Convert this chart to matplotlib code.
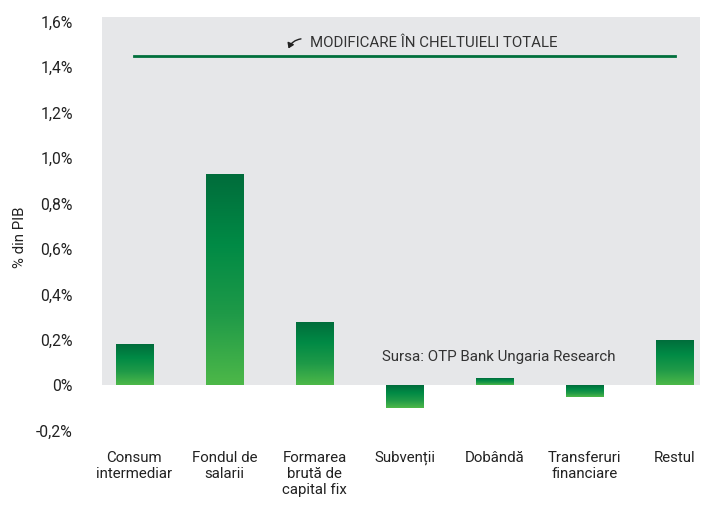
import numpy as np
import matplotlib
matplotlib.use("Agg")
import matplotlib.pyplot as plt
from matplotlib.colors import LinearSegmentedColormap
from matplotlib.patches import FancyArrowPatch

categories = ["Consum\nintermediar", "Fondul de\nsalarii", "Formarea\nbrută de\ncapital fix",
              "Subvenții", "Dobândă", "Transferuri\nfinanciare", "Restul"]
values = [0.18, 0.93, 0.28, -0.10, 0.03, -0.05, 0.20]
total_change = 1.45
yticks = [-0.2, 0.0, 0.2, 0.4, 0.6, 0.8, 1.0, 1.2, 1.4, 1.6]
ytick_labels = ["-0,2%", "0%", "0,2%", "0,4%", "0,6%", "0,8%", "1,0%", "1,2%", "1,4%", "1,6%"]

plt.rcParams["font.family"] = ["Roboto", "DejaVu Sans"]

fig = plt.figure(figsize=(7.04, 5.05), dpi=100)
ax = fig.add_axes([102 / 704, 1 - 433 / 505, 598 / 704, 416 / 505])
ax.set_xlim(-0.36, 6.28)
ax.set_ylim(-0.21, 1.62)

# gray panel only above zero
ax.axhspan(0, 1.62, color="#e6e7e9", zorder=0, lw=0)

green = LinearSegmentedColormap.from_list("g", ["#4db848", "#1f9a48", "#008a45", "#006c3b"])
grad = np.linspace(0, 1, 256).reshape(-1, 1)

x = np.arange(len(categories))
bars = ax.bar(x, values, width=0.42, color="none", zorder=2)
for b, v in zip(bars, values):
    x0, y0 = b.get_x(), b.get_y()
    w, h = b.get_width(), b.get_height()
    y_lo, y_hi = min(y0, y0 + h), max(y0, y0 + h)
    img = ax.imshow(grad, cmap=green, aspect="auto", origin="lower",
                    extent=[x0, x0 + w, y_lo, y_hi], zorder=2)
    img.set_clip_path(b)

# total change line
ax.plot([x[0], x[-1]], [total_change, total_change], color="#00703c", lw=2, zorder=3)
ax.text(1.95, total_change + 0.057, "MODIFICARE ÎN CHELTUIELI TOTALE", fontsize=10.8,
        color="#333333", va="center", ha="left")
arr = FancyArrowPatch((1.88, total_change + 0.075), (1.70, total_change + 0.02),
                      connectionstyle="arc3,rad=0.35", arrowstyle="-|>,head_length=3,head_width=2",
                      color="#222222", lw=1, zorder=4)
ax.add_patch(arr)

ax.text(2.75, 0.125, "Sursa: OTP Bank Ungaria Research", fontsize=10.9,
        color="#333333", va="center", ha="left")

ax.set_yticks(yticks)
ax.set_yticklabels(ytick_labels, fontsize=11.3, color="#222222")
ax.set_xticks(x)
ax.set_xticklabels(categories, fontsize=10.8, color="#222222", linespacing=1.2, va="top")
ax.tick_params(axis="both", length=0)
ax.tick_params(axis="y", pad=21)
ax.tick_params(axis="x", pad=13)
for s in ax.spines.values():
    s.set_visible(False)
ax.set_ylabel("% din PIB", fontsize=10.8, color="#222222")
ax.yaxis.set_label_coords(-0.125, 0.47)

fig.savefig("out.png", dpi=100)
